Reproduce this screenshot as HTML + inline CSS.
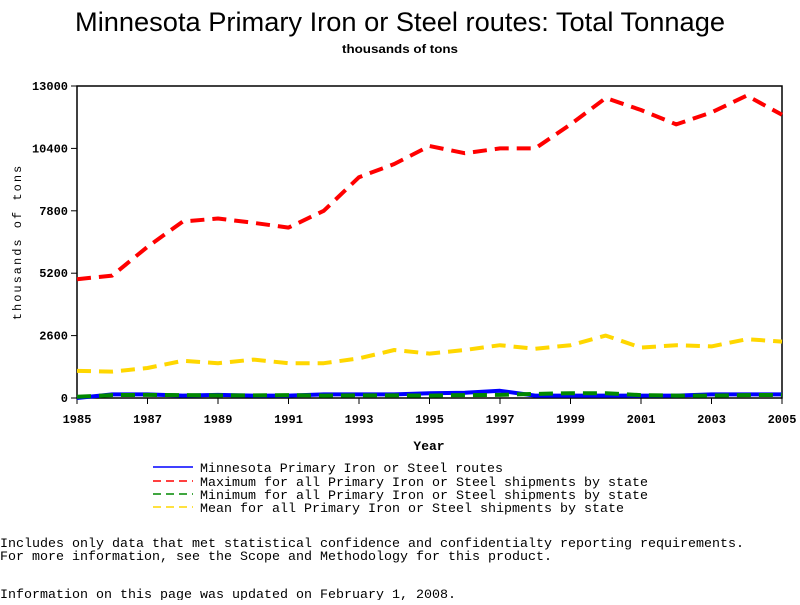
<!DOCTYPE html>
<html><head><meta charset="utf-8"><style>
body{margin:0;background:#fff;width:800px;height:600px;overflow:hidden}
svg text{fill:#000}
</style></head><body>
<svg id="chart" width="800" height="600" xmlns="http://www.w3.org/2000/svg">
<text x="75" y="31" textLength="650" lengthAdjust="spacingAndGlyphs" font-family="Liberation Sans, sans-serif" font-size="27">Minnesota Primary Iron or Steel routes: Total Tonnage</text>
<text x="342" y="53" textLength="116" lengthAdjust="spacingAndGlyphs" font-family="Liberation Sans, sans-serif" font-size="12" font-weight="bold">thousands of tons</text>
<rect x="77" y="86" width="705" height="312" fill="none" stroke="#000" stroke-width="1.5"/>
<text transform="translate(21,242) rotate(-90)" text-anchor="middle" font-family="Liberation Mono, monospace" font-size="12" letter-spacing="2">thousands of tons</text>
<text x="429" y="450" text-anchor="middle" font-family="Liberation Mono, monospace" font-size="13" font-weight="bold">Year</text>
<g id="ticks"></g>
<g id="series"></g>
<g font-family="Liberation Mono, monospace" font-size="13">
<line x1="153" y1="467" x2="193" y2="467" stroke="#00f" stroke-width="1.5"/>
<text x="200" y="472" textLength="303" lengthAdjust="spacingAndGlyphs">Minnesota Primary Iron or Steel routes</text>
<line x1="153" y1="481" x2="193" y2="481" stroke="#f00" stroke-width="1.5" stroke-dasharray="8,5"/>
<text x="200" y="486" textLength="448" lengthAdjust="spacingAndGlyphs">Maximum for all Primary Iron or Steel shipments by state</text>
<line x1="153" y1="494" x2="193" y2="494" stroke="#080" stroke-width="1.5" stroke-dasharray="8,5"/>
<text x="200" y="499" textLength="448" lengthAdjust="spacingAndGlyphs">Minimum for all Primary Iron or Steel shipments by state</text>
<line x1="153" y1="507" x2="193" y2="507" stroke="#ffd700" stroke-width="1.5" stroke-dasharray="8,5"/>
<text x="200" y="512" textLength="424" lengthAdjust="spacingAndGlyphs">Mean for all Primary Iron or Steel shipments by state</text>
</g>
<g font-family="Liberation Mono, monospace" font-size="13">
<text x="0" y="547" textLength="744" lengthAdjust="spacingAndGlyphs">Includes only data that met statistical confidence and confidentialty reporting requirements.</text>
<text x="0" y="560" textLength="552" lengthAdjust="spacingAndGlyphs">For more information, see the Scope and Methodology for this product.</text>
<text x="0" y="598" textLength="456" lengthAdjust="spacingAndGlyphs">Information on this page was updated on February 1, 2008.</text>
</g>
</svg>
<script>
const years=[1985,1986,1987,1988,1989,1990,1991,1992,1993,1994,1995,1996,1997,1998,1999,2000,2001,2002,2003,2004,2005];
const xTicks=[1985,1987,1989,1991,1993,1995,1997,1999,2001,2003,2005];
const yTicks=[0,2600,5200,7800,10400,13000];
const maxVals=[4950,5100,6300,7350,7480,7300,7100,7800,9200,9750,10500,10200,10400,10400,11400,12500,12000,11400,11900,12600,11800];
const meanVals=[1130,1100,1250,1550,1450,1600,1450,1450,1650,2000,1850,2000,2200,2050,2200,2600,2100,2200,2150,2450,2350];
const minVals=[50,120,130,120,110,110,120,100,110,110,100,120,130,170,200,200,120,100,100,120,130];
const mnVals=[0,150,150,100,130,100,100,150,150,150,200,220,300,100,100,100,100,100,150,150,150];
const NS='http://www.w3.org/2000/svg';
const X=y=>77+(y-1985)*(705/20);
const Y=v=>398-v*(312/13000);
const tg=document.getElementById('ticks');
function mk(tag,attrs,parent){const e=document.createElementNS(NS,tag);for(const k in attrs)e.setAttribute(k,attrs[k]);parent.appendChild(e);return e;}
xTicks.forEach(t=>{
  const l=mk('line',{x1:X(t),x2:X(t),y1:398,y2:404,stroke:'#000'},tg);
  
  
  const tx=mk('text',{x:X(t),y:423,'text-anchor':'middle','font-family':'Liberation Mono, monospace','font-size':'12','font-weight':'bold'},tg);
  tx.textContent=t;
  
  
});
yTicks.forEach(t=>{
  const l=mk('line',{x1:71,x2:77,y1:Y(t),y2:Y(t),stroke:'#000'},tg);
  
  
  const tx=mk('text',{x:68,y:Y(t)+4,'text-anchor':'end','font-family':'Liberation Mono, monospace','font-size':'12','font-weight':'bold'},tg);
  tx.textContent=t;
  
  
});
const sg=document.getElementById('series');
function line(vals,color,dash,name){
  const pts=vals.map((v,i)=>X(years[i])+','+Y(v)).join(' ');
  const p=mk('polyline',{points:pts,fill:'none',stroke:color,'stroke-width':'4','stroke-linejoin':'round'},sg);
  if(dash)p.setAttribute('stroke-dasharray',dash);
  
  
}
line(meanVals,'#ffd700','14,8','mean-line');
line(maxVals,'#f00','14,8','maximum-line');
line(mnVals,'#00f','','minnesota-line');
line(minVals,'#080','14,8','minimum-line');
</script>
</body></html>
